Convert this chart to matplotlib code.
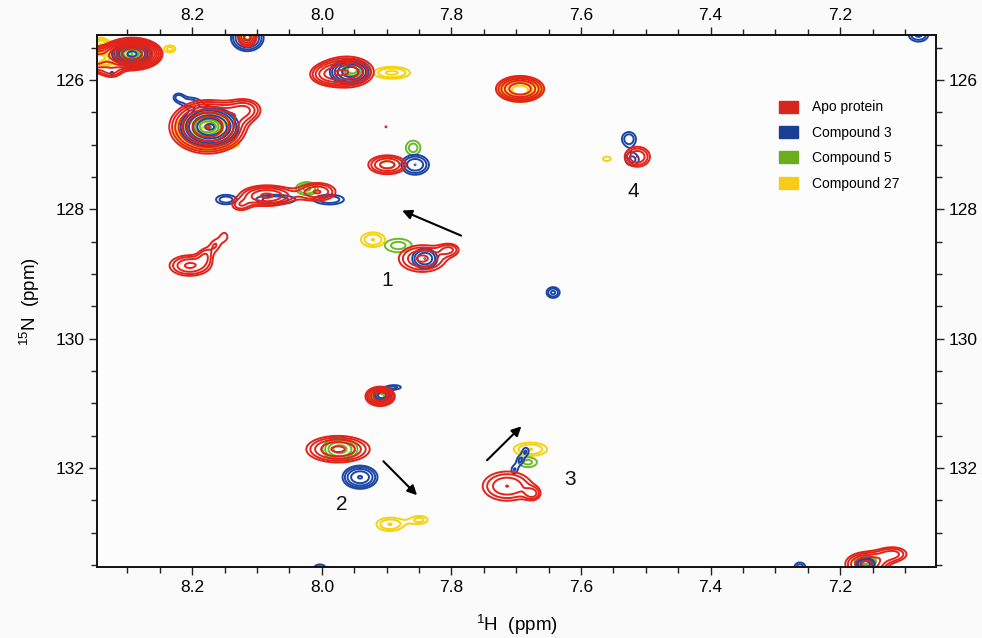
import numpy as np
import matplotlib
matplotlib.use("Agg")
import matplotlib.pyplot as plt
from matplotlib.patches import Patch
from matplotlib.ticker import MultipleLocator

plt.rcParams["font.family"] = ["Liberation Sans", "DejaVu Sans"]
plt.rcParams["mathtext.fontset"] = "custom"
plt.rcParams["mathtext.rm"] = "Liberation Sans"
plt.rcParams["mathtext.it"] = "Liberation Sans:italic"

# Cross peaks of each spectrum: (1H ppm, 15N ppm, 1H width, 15N width, height)
apo_peaks = [
    (8.293, 125.599, 0.0217, 0.116, 10.6),
    (8.350, 125.690, 0.0154, 0.123, 3.0),
    (8.324, 125.877, 0.0124, 0.077, 1.5),
    (8.115, 125.320, 0.0108, 0.123, 2.5),
    (8.176, 126.726, 0.0310, 0.216, 6.3),
    (8.118, 126.460, 0.0185, 0.123, 2.0),
    (7.961, 125.877, 0.0260, 0.150, 3.5),
    (7.995, 125.920, 0.0185, 0.108, 1.5),
    (7.694, 126.139, 0.0230, 0.124, 3.7),
    (7.899, 127.312, 0.0216, 0.108, 2.5),
    (7.901, 126.726, 0.0030, 0.030, 1.05),
    (8.085, 127.790, 0.0280, 0.108, 3.0),
    (8.006, 127.730, 0.0216, 0.108, 2.2),
    (8.126, 127.945, 0.0124, 0.077, 1.3),
    (8.204, 128.870, 0.0240, 0.123, 2.3),
    (8.180, 128.700, 0.0085, 0.100, 1.15),
    (8.165, 128.555, 0.0080, 0.100, 1.15),
    (8.150, 128.420, 0.0080, 0.100, 1.12),
    (7.845, 128.762, 0.0280, 0.160, 2.3),
    (7.802, 128.620, 0.0124, 0.077, 1.4),
    (7.910, 130.892, 0.0140, 0.093, 3.7),
    (7.975, 131.709, 0.0330, 0.139, 3.0),
    (7.714, 132.280, 0.0300, 0.180, 2.2),
    (7.674, 132.400, 0.0093, 0.077, 1.3),
    (7.513, 127.188, 0.0155, 0.123, 2.2),
    (7.160, 133.484, 0.0216, 0.123, 3.0),
    (7.118, 133.330, 0.0185, 0.093, 1.8),
]

cpd3_peaks = [
    (8.293, 125.599, 0.0185, 0.108, 4.0),
    (8.324, 125.900, 0.0046, 0.046, 1.1),
    (8.115, 125.350, 0.0170, 0.139, 3.0),
    (8.173, 126.726, 0.0250, 0.170, 5.0),
    (8.203, 126.340, 0.0155, 0.077, 1.3),
    (8.222, 126.260, 0.0077, 0.062, 1.15),
    (7.956, 125.877, 0.0200, 0.123, 3.5),
    (7.856, 127.312, 0.0170, 0.123, 2.2),
    (8.149, 127.850, 0.0155, 0.077, 1.5),
    (8.072, 127.850, 0.0300, 0.077, 1.6),
    (7.987, 127.850, 0.0216, 0.077, 1.6),
    (7.841, 128.762, 0.0155, 0.123, 2.2),
    (7.643, 129.287, 0.0093, 0.077, 1.8),
    (7.907, 130.876, 0.0108, 0.077, 2.0),
    (7.887, 130.750, 0.0120, 0.040, 1.3),
    (7.941, 132.142, 0.0185, 0.123, 2.9),
    (7.685, 131.740, 0.0060, 0.077, 1.25),
    (7.694, 131.880, 0.0060, 0.077, 1.25),
    (7.703, 132.030, 0.0060, 0.077, 1.25),
    (7.526, 126.911, 0.0110, 0.108, 1.6),
    (7.521, 127.235, 0.0124, 0.108, 1.4),
    (8.003, 133.560, 0.0108, 0.077, 1.5),
    (7.262, 133.530, 0.0093, 0.077, 1.5),
    (7.079, 125.300, 0.0140, 0.100, 1.8),
    (7.161, 133.484, 0.0124, 0.077, 2.0),
]

cpd5_peaks = [
    (8.296, 125.599, 0.0124, 0.077, 3.0),
    (8.176, 126.726, 0.0155, 0.108, 3.0),
    (7.953, 125.846, 0.0124, 0.093, 2.0),
    (7.859, 127.050, 0.0124, 0.123, 1.5),
    (7.899, 127.312, 0.0155, 0.077, 1.3),
    (8.023, 127.680, 0.0155, 0.093, 1.8),
    (7.882, 128.560, 0.0240, 0.120, 1.45),
    (7.910, 130.892, 0.0108, 0.077, 2.0),
    (7.972, 131.709, 0.0200, 0.123, 2.5),
    (7.682, 131.910, 0.0170, 0.093, 1.4),
    (7.161, 133.440, 0.0140, 0.077, 2.0),
]

cpd27_peaks = [
    (8.296, 125.570, 0.0200, 0.108, 6.0),
    (8.342, 125.460, 0.0093, 0.093, 2.0),
    (8.234, 125.520, 0.0093, 0.062, 1.4),
    (8.336, 125.750, 0.0093, 0.046, 1.3),
    (8.113, 125.320, 0.0108, 0.093, 2.0),
    (8.180, 126.770, 0.0260, 0.154, 5.0),
    (8.165, 127.000, 0.0310, 0.062, 1.6),
    (7.892, 125.890, 0.0260, 0.085, 1.8),
    (7.694, 126.155, 0.0200, 0.108, 4.5),
    (7.921, 128.470, 0.0180, 0.110, 1.7),
    (7.910, 130.892, 0.0108, 0.077, 2.5),
    (7.895, 132.870, 0.0200, 0.100, 1.7),
    (7.848, 132.800, 0.0140, 0.070, 1.35),
    (7.678, 131.710, 0.0250, 0.100, 1.7),
    (7.560, 127.220, 0.0090, 0.050, 1.25),
    (7.161, 133.460, 0.0124, 0.077, 1.8),
]

series_names = ["Apo protein", "Compound 3", "Compound 5", "Compound 27"]
series_colors = ["#e2231a", "#1c46a6", "#6cb92a", "#f5d20c"]
legend_colors = ["#d7261b", "#1b3f94", "#6aad1f", "#f7cb17"]

# Chemical shift changes marked on the spectrum: (start H, start N, end H, end N)
shift_arrows = [
    (7.785, 128.407, 7.876, 128.020),
    (7.905, 131.895, 7.853, 132.420),
    (7.745, 131.880, 7.692, 131.355),
]
residue_labels = ["1", "2", "3", "4"]
residue_label_pos = [(7.899, 129.10), (7.969, 132.56), (7.617, 132.17), (7.519, 127.73)]

h_lim = (8.347, 7.052)
n_lim = (133.53, 125.306)

h = np.linspace(7.0, 8.42, 1400)
n = np.linspace(125.0, 134.0, 1100)
H, N = np.meshgrid(h, n)


def spectrum(peaks):
    z = np.zeros_like(H)
    for h0, n0, sh, sn, a in peaks:
        z += a * np.exp(-0.5 * (((H - h0) / sh) ** 2 + ((N - n0) / sn) ** 2))
    return z


levels = 1.3 ** np.arange(0, 14)

fig = plt.figure(figsize=(9.82, 6.38), dpi=100, facecolor="#fafafa")
ax = fig.add_axes([97 / 982, 1 - 567 / 638, (936 - 97) / 982, (567 - 35) / 638])
ax.set_facecolor("#fcfcfc")

draw_order = [3, 2, 1, 0]
all_peaks = [apo_peaks, cpd3_peaks, cpd5_peaks, cpd27_peaks]
for i in draw_order:
    ax.contour(H, N, spectrum(all_peaks[i]), levels=levels,
               colors=series_colors[i], linewidths=1.4)

for h0, n0, h1, n1 in shift_arrows:
    ax.annotate("", xy=(h1, n1), xytext=(h0, n0),
                arrowprops=dict(arrowstyle="-|>", color="black", lw=1.5,
                                mutation_scale=14, shrinkA=0, shrinkB=0))

for txt, (hx, nx) in zip(residue_labels, residue_label_pos):
    ax.text(hx, nx, txt, fontsize=15, ha="center", va="center", color="#111111")

ax.set_xlim(*h_lim)
ax.set_ylim(*n_lim)
ax.xaxis.set_major_locator(MultipleLocator(0.2))
ax.xaxis.set_minor_locator(MultipleLocator(0.05))
ax.yaxis.set_major_locator(MultipleLocator(2))
ax.yaxis.set_minor_locator(MultipleLocator(0.5))
ax.tick_params(which="both", direction="out", top=True, right=True,
               labeltop=True, labelright=True, width=1.0, color="#222222")
ax.tick_params(which="major", length=6, labelsize=12.5, pad=3)
ax.tick_params(which="minor", length=4)
for sp in ax.spines.values():
    sp.set_linewidth(1.4)
    sp.set_color("#111111")

ax.set_xlabel(r"$^{1}$H  (ppm)", fontsize=13.5, labelpad=13)
ax.set_ylabel(r"$^{15}$N  (ppm)", fontsize=13.5, labelpad=10)

handles = [Patch(facecolor=c, edgecolor=c) for c in legend_colors]
ax.legend(handles, series_names, loc="upper left", bbox_to_anchor=(0.813, 0.877),
          frameon=False, fontsize=10, handlelength=1.37, handleheight=0.95,
          handletextpad=1.0, labelspacing=0.82, borderpad=0, borderaxespad=0)

fig.savefig("out.png", dpi=100, facecolor=fig.get_facecolor())
